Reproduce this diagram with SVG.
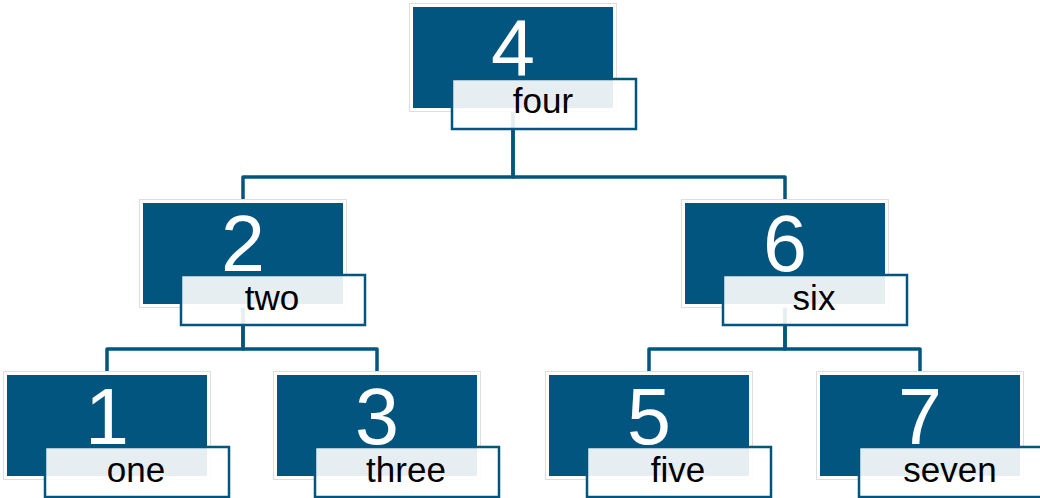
<svg xmlns="http://www.w3.org/2000/svg" width="1040" height="498" viewBox="0 0 1040 498">
<style>
.halo{fill:#ffffff;stroke:#dedede;stroke-width:1}
.box{fill:#02557e}
.lbl{fill:#ffffff;fill-opacity:0.9;stroke:#02557e;stroke-width:2.5}
.num{font-family:"Liberation Sans",Arial,sans-serif;font-size:79px;fill:#ffffff;text-anchor:middle}
.txt{font-family:"Liberation Sans",Arial,sans-serif;font-size:35px;fill:#000000;text-anchor:middle}
.edge{fill:none;stroke:#02557e;stroke-width:3.5;stroke-linejoin:round}
</style>
<rect width="1040" height="498" fill="#ffffff"/>
<g id="connectors">
<path class="edge" d="M513,108 V177 H243 V203"/>
<path class="edge" d="M513,108 V177 H785 V203"/>
<path class="edge" d="M243,304 V349 H107 V375"/>
<path class="edge" d="M243,304 V349 H377 V375"/>
<path class="edge" d="M785,304 V349 H649 V375"/>
<path class="edge" d="M785,304 V349 H920 V375"/>
</g>
<g id="node4">
<rect class="halo" x="409.5" y="3.5" width="207" height="108"/>
<rect class="box" x="413" y="7" width="200" height="101"/>
<text class="num" x="513" y="75">4</text>
<rect class="lbl" x="452" y="79" width="184" height="50"/>
<text class="txt" x="543" y="113">four</text>
</g>
<g id="node2">
<rect class="halo" x="139.5" y="199.5" width="207" height="108"/>
<rect class="box" x="143" y="203" width="200" height="101"/>
<text class="num" x="243" y="271">2</text>
<rect class="lbl" x="181" y="275" width="184" height="50"/>
<text class="txt" x="272" y="310">two</text>
</g>
<g id="node6">
<rect class="halo" x="681.5" y="199.5" width="207" height="108"/>
<rect class="box" x="685" y="203" width="200" height="101"/>
<text class="num" x="785" y="271">6</text>
<rect class="lbl" x="723" y="275" width="184" height="50"/>
<text class="txt" x="814" y="310">six</text>
</g>
<g id="node1">
<rect class="halo" x="3.5" y="371.5" width="207" height="108"/>
<rect class="box" x="7" y="375" width="200" height="101"/>
<text class="num" x="107" y="444">1</text>
<rect class="lbl" x="45" y="447" width="184" height="50"/>
<text class="txt" x="136" y="482">one</text>
</g>
<g id="node3">
<rect class="halo" x="273.5" y="371.5" width="207" height="108"/>
<rect class="box" x="277" y="375" width="200" height="101"/>
<text class="num" x="377" y="444">3</text>
<rect class="lbl" x="315" y="447" width="184" height="50"/>
<text class="txt" x="406" y="482">three</text>
</g>
<g id="node5">
<rect class="halo" x="545.5" y="371.5" width="207" height="108"/>
<rect class="box" x="549" y="375" width="200" height="101"/>
<text class="num" x="649" y="444">5</text>
<rect class="lbl" x="587" y="447" width="184" height="50"/>
<text class="txt" x="678" y="482">five</text>
</g>
<g id="node7">
<rect class="halo" x="816.5" y="371.5" width="207" height="108"/>
<rect class="box" x="820" y="375" width="200" height="101"/>
<text class="num" x="920" y="444">7</text>
<rect class="lbl" x="859" y="447" width="184" height="50"/>
<text class="txt" x="950" y="482">seven</text>
</g>
</svg>
